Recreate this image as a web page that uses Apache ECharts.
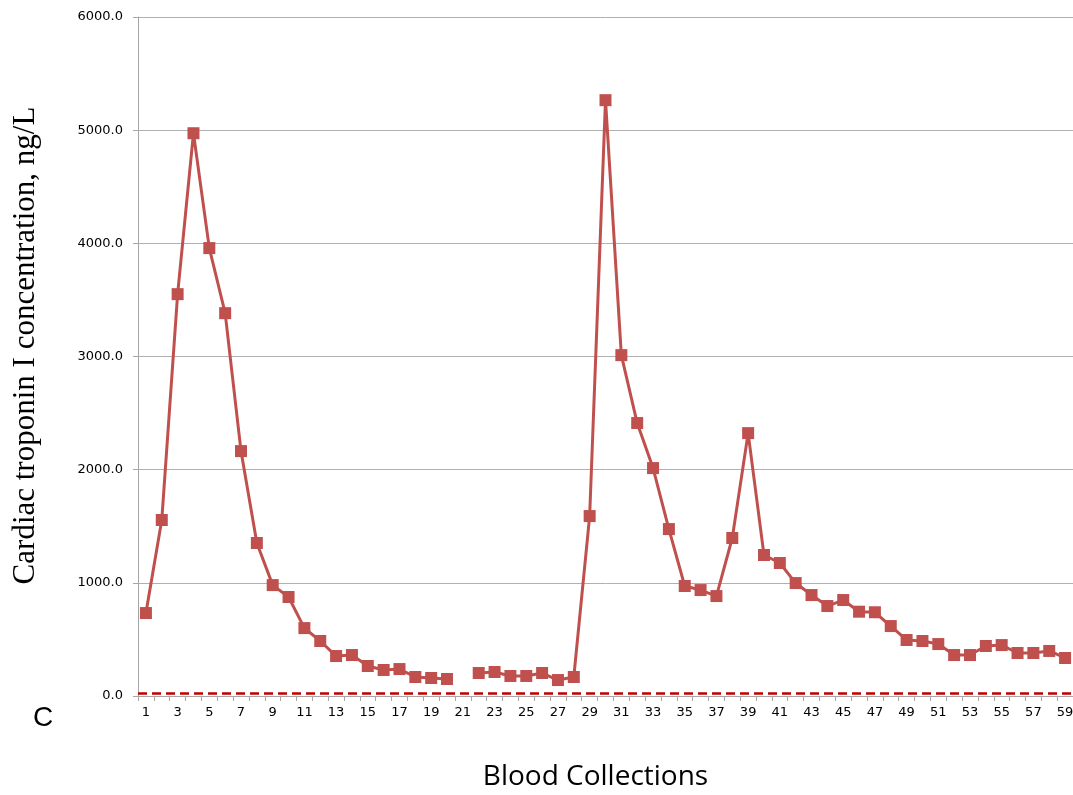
<!DOCTYPE html>
<html>
<head>
<meta charset="utf-8">
<script src="https://cdn.jsdelivr.net/npm/echarts@6/dist/echarts.min.js"></script>
<style>
	html, body { margin: 0; padding: 0; background: #fff; }
	#main { width: 1073px; height: 795px; }
</style>
</head>
<body>
<div id="main"></div>
<script>
// 采血次数 1..59
const collections = [];
for (let i = 1; i <= 59; i++) collections.push(String(i));

// 肌钙蛋白 I 浓度 (ng/L)，第 21 次缺失
const troponin = [
	733, 1555, 3551, 4973, 3958, 3383, 2164, 1352, 980, 875,
	600, 486, 353, 362, 265, 230, 238, 168, 159, 150,
	null, 203, 212, 177, 177, 203, 141, 168, 1590, 5265,
	3012, 2412, 2014, 1475, 972, 936, 883, 1396, 2323, 1246,
	1175, 998, 892, 795, 848, 745, 740, 618, 495, 486,
	459, 362, 362, 442, 450, 380, 380, 398, 336
];

// 参考上限（虚线）
const cutoff = 26;

const chart = echarts.init(document.getElementById('main'));

chart.setOption({
	animation: false,
	grid: { left: 138, right: 0, top: 17, bottom: 99, containLabel: false, outerBoundsMode: 'none' },
	graphic: [{
		type: 'text',
		left: 33,
		top: 704,
		style: { text: 'C', fontFamily: 'Liberation Sans', fontSize: 28, fill: '#000' }
	}],
	xAxis: {
		type: 'category',
		data: collections,
		boundaryGap: true,
		name: 'Blood Collections',
		nameLocation: 'middle',
		nameGap: 67,
		nameTextStyle: { fontFamily: 'Open Sans', fontSize: 28, color: '#000', padding: [0, 20, 0, 0] },
		axisLine: { lineStyle: { color: '#a6a6a6', width: 1 } },
		axisTick: { show: true, interval: 0, length: 5, lineStyle: { color: '#a6a6a6' } },
		axisLabel: { interval: 1, margin: 10, fontFamily: 'DejaVu Sans', fontSize: 13, color: '#000' }
	},
	yAxis: {
		type: 'value',
		min: 0,
		max: 6000,
		interval: 1000,
		name: 'Cardiac troponin I concentration, ng/L',
		nameLocation: 'middle',
		nameGap: 97,
		nameTextStyle: { fontFamily: 'Liberation Serif', fontSize: 31, color: '#000', padding: [0, 0, 0, 22] },
		axisLine: { show: true, lineStyle: { color: '#a6a6a6', width: 1 } },
		axisTick: { show: true, length: 5, lineStyle: { color: '#a6a6a6' } },
		axisLabel: {
			margin: 15,
			fontFamily: 'DejaVu Sans',
			fontSize: 13,
			color: '#000',
			formatter: v => v.toFixed(1)
		},
		splitLine: { lineStyle: { color: '#b0b0b0', width: 1 } }
	},
	series: [{
		type: 'line',
		data: troponin,
		connectNulls: false,
		showAllSymbol: true,
		symbol: 'rect',
		symbolSize: 12,
		lineStyle: { color: '#c0504d', width: 3 },
		itemStyle: { color: '#c0504d' },
		markLine: {
			silent: true,
			symbol: 'none',
			label: { show: false },
			lineStyle: { color: '#c00000', type: [9, 5], width: 2.5 },
			data: [{ yAxis: cutoff }]
		}
	}]
});
</script>
</body>
</html>
